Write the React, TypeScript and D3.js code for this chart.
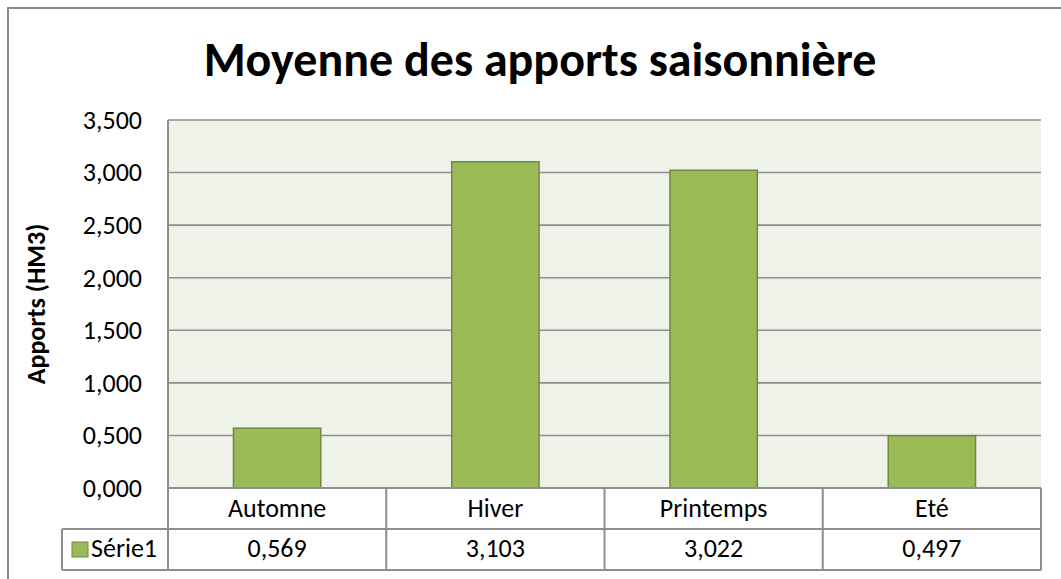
import React, { useRef, useEffect } from "react";
import * as d3 from "d3";

const categories = ["Automne", "Hiver", "Printemps", "Eté"];
const values = [0.569, 3.103, 3.022, 0.497];
const yTicks = [0, 0.5, 1, 1.5, 2, 2.5, 3, 3.5];
const seriesName = "Série1";
const title = "Moyenne des apports saisonnière";
const yLabel = "Apports (HM3)";

const W = 1061;
const H = 579;
const font = "Calibri, Carlito, 'Open Sans', sans-serif";

function App() {
  const svgRef = useRef<SVGSVGElement>(null);

  useEffect(() => {
    const svg = d3.select(svgRef.current);
    svg.selectAll("*").remove();

    const left = 168, right = 1041, top = 120, bottom = 488;
    const rowH = 41;
    const legendLeft = 62;
    const fmt = (v: number) => d3.format(".3f")(v).replace(".", ",");

    const x = d3.scaleBand().domain(categories).range([left, right]).paddingInner(0.6).paddingOuter(0.3);
    const col = d3.scaleBand().domain(categories).range([left, right]);
    const y = d3.scaleLinear().domain([0, 3.5]).range([bottom, top]);

    // outer frame
    svg.append("rect").attr("x", 8).attr("y", 8).attr("width", W + 10).attr("height", H + 10)
      .attr("fill", "white").attr("stroke", "#8a8a8a").attr("stroke-width", 2);

    svg.append("text").attr("x", 540).attr("y", 76).attr("text-anchor", "middle")
      .attr("font-family", font).attr("font-weight", "bold").attr("font-size", 48)
      .attr("fill", "#000").text(title);

    // plot area
    svg.append("rect").attr("x", left).attr("y", top).attr("width", right - left).attr("height", bottom - top)
      .attr("fill", "#eff2e8");

    svg.append("g").selectAll("line").data(yTicks).join("line")
      .attr("x1", left).attr("x2", right)
      .attr("y1", d => y(d)).attr("y2", d => y(d))
      .attr("stroke", "#8e8e8e").attr("stroke-width", 1.6);

    svg.append("line").attr("x1", left).attr("x2", left).attr("y1", top).attr("y2", bottom + 2 * rowH)
      .attr("stroke", "#8e8e8e").attr("stroke-width", 2);

    const yAxis = d3.axisLeft(y).tickValues(yTicks).tickSize(0).tickPadding(26).tickFormat(d => fmt(d as number));
    const ga = svg.append("g").attr("transform", `translate(${left},0)`).call(yAxis);
    ga.select(".domain").remove();
    ga.selectAll("text").attr("font-family", font).attr("font-size", 26).attr("fill", "#000");

    svg.append("text").attr("transform", `translate(45,${(top + bottom) / 2}) rotate(-90)`)
      .attr("text-anchor", "middle").attr("font-family", font).attr("font-weight", "bold")
      .attr("font-size", 26).attr("fill", "#000").text(yLabel);

    // bars
    svg.append("g").selectAll("rect").data(values).join("rect")
      .attr("x", (d, i) => x(categories[i])!)
      .attr("width", x.bandwidth())
      .attr("y", d => y(d))
      .attr("height", d => y(0) - y(d))
      .attr("fill", "#9bbb59").attr("stroke", "#71893f").attr("stroke-width", 1.5);

    // data table
    const tb = svg.append("g").attr("stroke", "#8e8e8e").attr("stroke-width", 2).attr("fill", "none");
    tb.append("line").attr("x1", left).attr("x2", right).attr("y1", bottom).attr("y2", bottom);
    tb.append("line").attr("x1", legendLeft).attr("x2", right).attr("y1", bottom + rowH).attr("y2", bottom + rowH);
    tb.append("line").attr("x1", legendLeft).attr("x2", right).attr("y1", bottom + 2 * rowH).attr("y2", bottom + 2 * rowH);
    tb.append("line").attr("x1", legendLeft).attr("x2", legendLeft).attr("y1", bottom + rowH).attr("y2", bottom + 2 * rowH);
    tb.selectAll(".sep").data(categories).join("line").attr("class", "sep")
      .attr("x1", d => col(d)! + col.bandwidth()).attr("x2", d => col(d)! + col.bandwidth())
      .attr("y1", bottom).attr("y2", bottom + 2 * rowH);

    svg.append("g").selectAll("text").data(categories).join("text")
      .attr("x", d => col(d)! + col.bandwidth() / 2).attr("y", bottom + 29)
      .attr("text-anchor", "middle").attr("font-family", font).attr("font-size", 26).attr("fill", "#000")
      .text(d => d);

    svg.append("g").selectAll("text").data(values).join("text")
      .attr("x", (d, i) => col(categories[i])! + col.bandwidth() / 2).attr("y", bottom + rowH + 28)
      .attr("text-anchor", "middle").attr("font-family", font).attr("font-size", 26).attr("fill", "#000")
      .text(d => fmt(d));

    svg.append("rect").attr("x", legendLeft + 10).attr("y", bottom + rowH + 13).attr("width", 16).attr("height", 15)
      .attr("fill", "#9bbb59").attr("stroke", "#71893f");
    svg.append("text").attr("x", legendLeft + 29).attr("y", bottom + rowH + 28)
      .attr("font-family", font).attr("font-size", 26).attr("fill", "#000").text(seriesName);
  }, []);

  return (
    <svg ref={svgRef} width={W} height={H} style={{ position: "absolute", left: 0, top: 0 }} />
  );
}

export default App;
